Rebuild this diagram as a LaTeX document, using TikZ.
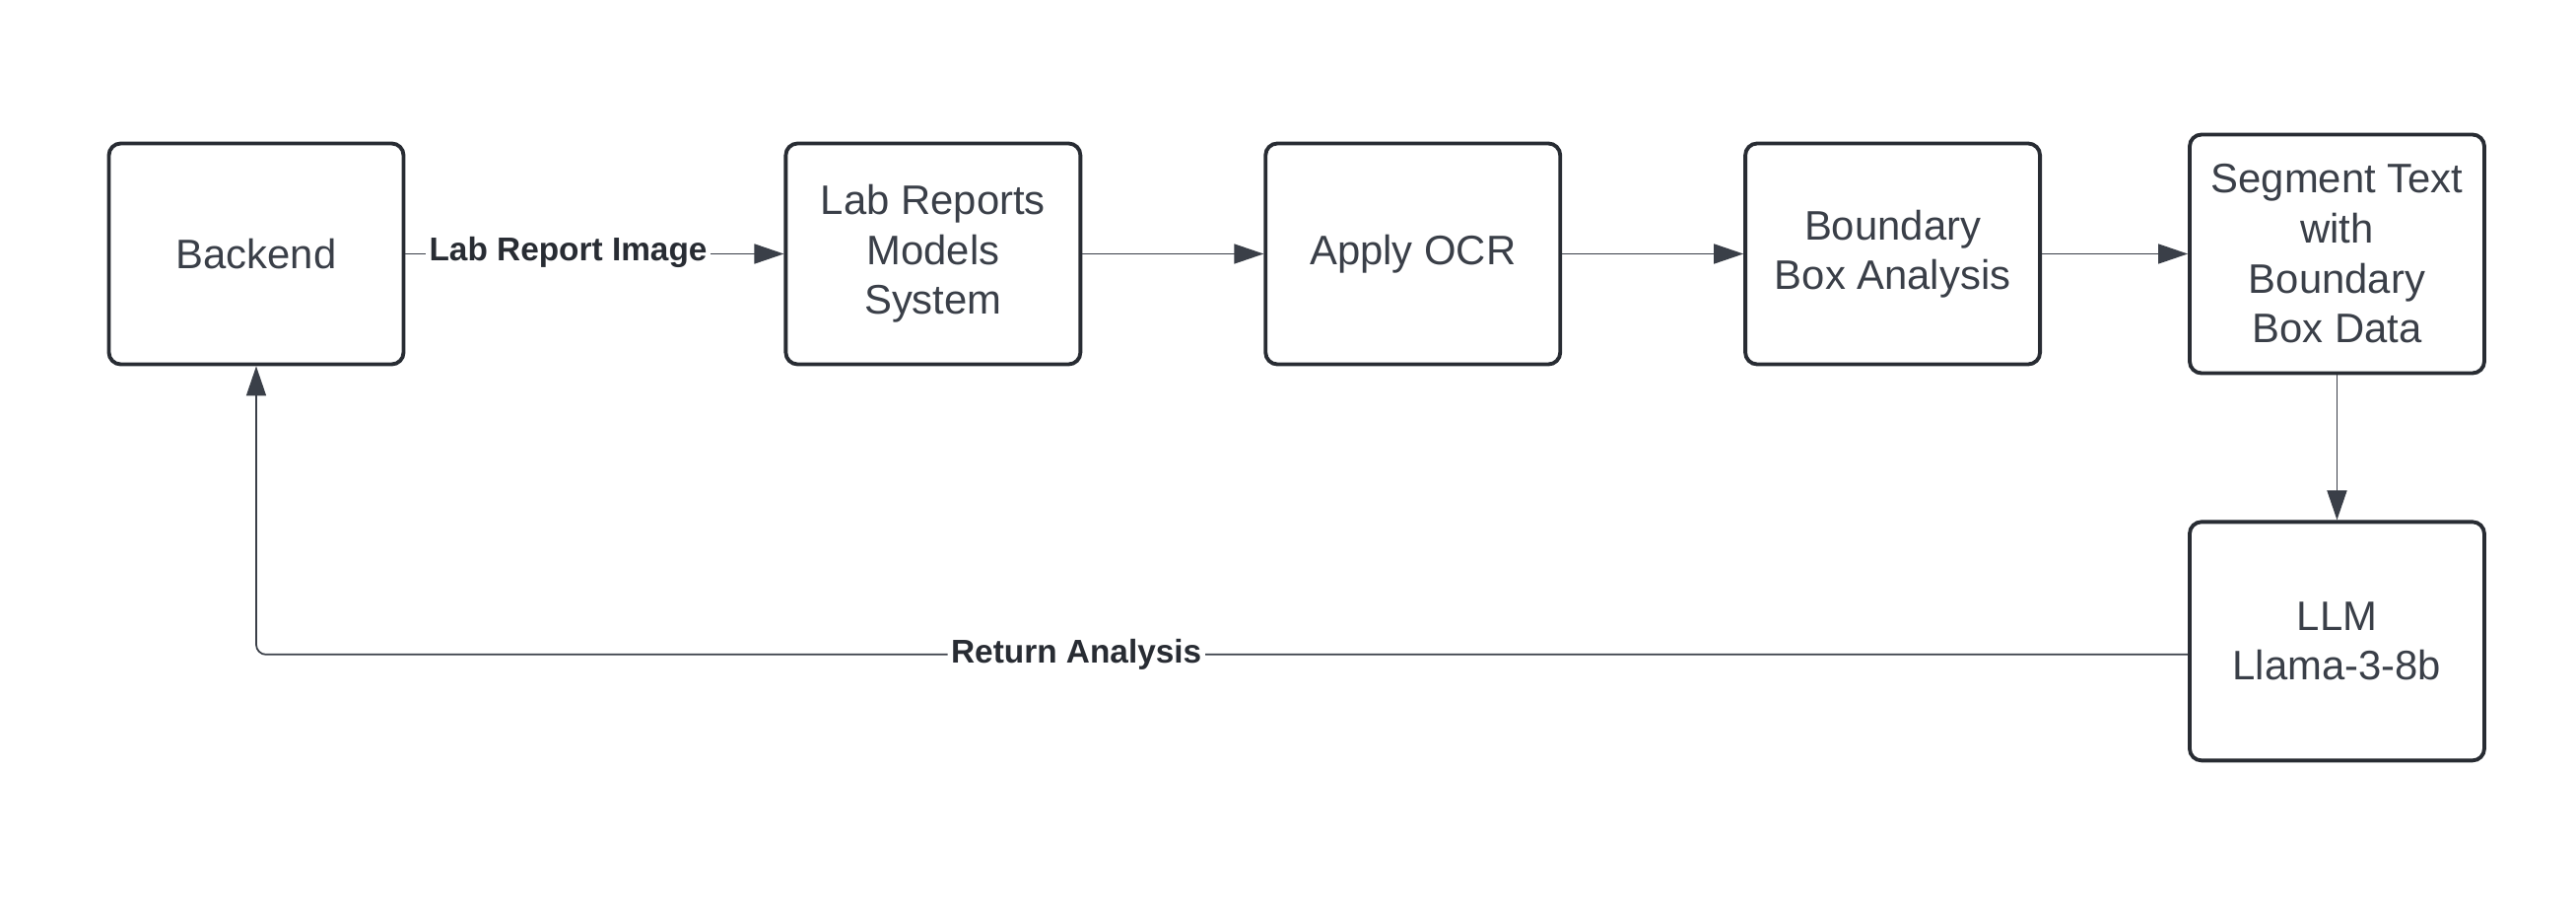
\documentclass[tikz,border=0pt]{standalone}
\usepackage{fontspec}
\setmainfont{Liberation Sans}
\usepackage{xcolor}
\usetikzlibrary{arrows.meta, positioning}
\definecolor{boxline}{HTML}{282C33}
\definecolor{inkgray}{HTML}{3A3F48}

\begin{document}
\begin{tikzpicture}[-{Triangle[length=3mm,width=2mm]},semithick,
            draw=inkgray,color=inkgray,line width=0.5pt,
            block/.style={draw=boxline,-,line width=1.1pt,rounded corners=1.2mm,
                minimum width=2.99cm,minimum height=2.24cm,align=center,
                text=inkgray,font=\fontsize{11.9}{14.4}\selectfont},
            tall/.style={block,minimum height=2.42cm},
            tag/.style={fill=white,inner sep=1pt,text=boxline,
                font=\fontsize{9.5}{11}\selectfont\bfseries}]
            \useasboundingbox (0,0) rectangle (26.14,-9.24);
            % Define the blocks
            \node[block] (backend) at (2.6,-2.575) {Backend};
            \node[block] (lab) [right=3.84cm of backend] {Lab Reports\\Models\\System};
            \node[block] (ocr) [right=1.84cm of lab]    {Apply OCR};
            \node[block] (bbox) [right=1.84cm of ocr]   {Boundary\\Box Analysis};
            \node[tall] (segment) [right=1.48cm of bbox] {Segment Text\\with\\Boundary\\Box Data};
            \node[tall] (llm) [below=1.47cm of segment]  {LLM\\Llama-3-8b};

            % Connect the blocks with arrows
            \draw (backend) -- node[tag,pos=0.43,yshift=0.2mm] {Lab Report Image} (lab);
            \draw (lab) -- (ocr);
            \draw (ocr) -- (bbox);
            \draw (bbox) -- (segment);
            \draw (segment) -- (llm);

            \draw[rounded corners=1mm] ([yshift=-1.35mm]llm.west) -| node[tag,pos=0.2877] {Return Analysis} (backend.south);
        \end{tikzpicture}
\end{document}
